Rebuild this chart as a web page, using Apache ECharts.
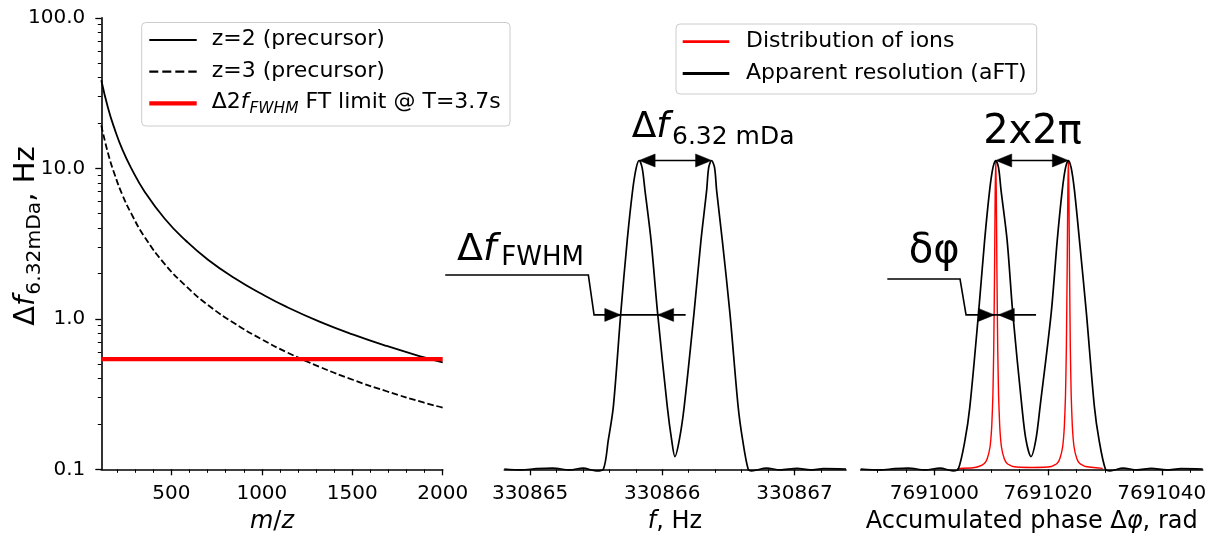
<!DOCTYPE html>
<html>
<head>
<meta charset="utf-8">
<script src="https://cdn.jsdelivr.net/npm/echarts@6/dist/echarts.min.js"></script>
<style>
  html, body { margin: 0; padding: 0; background: #fff; }
  #chart { width: 1214px; height: 536px; }
</style>
</head>
<body>
<div id="chart"></div>
<script>
// ---------- left panel: frequency gap of a 6.32 mDa doublet vs m/z ----------
const mzGrid = [112, 150, 186, 230, 278, 350, 463, 580, 702, 850, 1000, 1137, 1322, 1506, 1690, 1893, 2000];
const dfZ2 = [38.5, 25.0, 18.2, 13.2, 10.0, 7.05, 4.62, 3.3, 2.47, 1.86, 1.46, 1.2, 0.955, 0.785, 0.66, 0.556, 0.513];
const dfZ3 = [19.3, 12.5, 9.1, 6.6, 5.0, 3.52, 2.31, 1.65, 1.235, 0.93, 0.73, 0.6, 0.478, 0.392, 0.33, 0.278, 0.257];
const limitMz = [112, 2000];
const limitDf = [0.54, 0.54];
const mzTicks = [500, 1000, 1500, 2000];
const mzMinorTicks = [200, 300, 400, 600, 700, 800, 900, 1100, 1200, 1300, 1400, 1600, 1700, 1800, 1900];
const dfTicks = [0.1, 1, 10, 100];
const dfMinorTicks = [0.2, 0.3, 0.4, 0.5, 0.6, 0.7, 0.8, 0.9, 2, 3, 4, 5, 6, 7, 8, 9, 20, 30, 40, 50, 60, 70, 80, 90];

// ---------- middle panel: apparent spectrum vs frequency ----------
const freqHz = [330864.805, 330864.93, 330865.05, 330865.17, 330865.30, 330865.40, 330865.50, 330865.554,
  330865.592, 330865.630, 330865.686, 330865.735, 330865.776, 330865.803, 330865.825, 330865.848, 330865.869,
  330865.915, 330865.965, 330866.038, 330866.071, 330866.096, 330866.129, 330866.166, 330866.240, 330866.293,
  330866.336, 330866.351, 330866.373, 330866.396, 330866.411, 330866.454, 330866.512, 330866.574, 330866.608,
  330866.650, 330866.676, 330866.79, 330866.89, 330867.02, 330867.12, 330867.22, 330867.39];
const freqAmp = [0.001, -0.002, 0.002, 0.004, -0.002, 0.004, -0.005, 0.0,
  0.095, 0.203, 0.505, 0.742, 0.904, 0.976, 1.0, 0.976, 0.904,
  0.742, 0.505, 0.203, 0.095, 0.041, 0.095, 0.203, 0.505, 0.742,
  0.904, 0.976, 1.0, 0.976, 0.904, 0.742, 0.505, 0.203, 0.095,
  0.0, -0.005, 0.004, -0.002, 0.003, -0.002, 0.002, 0.001];
const freqTicks = [330865, 330866, 330867];
const freqMinorTicks = [330865.2, 330865.4, 330865.6, 330865.8, 330866.2, 330866.4, 330866.6, 330866.8, 330867.2];

// ---------- right panel: spectrum vs accumulated phase ----------
const phaseRad = [7690987.05, 7690990.5, 7690993, 7690995.4, 7690998.4, 7691001.0, 7691003.3, 7691004.2,
  7691005.4, 7691006.25, 7691007.77, 7691008.85, 7691009.73, 7691010.3, 7691010.8, 7691011.3, 7691011.73,
  7691012.8, 7691013.8, 7691015.4, 7691016.12, 7691017.0, 7691017.85, 7691018.6, 7691020.55, 7691021.62,
  7691022.5, 7691023.07, 7691023.57, 7691024.07, 7691024.64, 7691025.52, 7691026.75, 7691028.15, 7691028.97,
  7691030.1, 7691030.9, 7691033.2, 7691035.6, 7691038.2, 7691040.8, 7691043.4, 7691047.2];
const phaseAmp = [0.001, -0.002, 0.002, 0.004, -0.002, 0.004, -0.005, 0.0,
  0.095, 0.203, 0.505, 0.742, 0.904, 0.976, 1.0, 0.976, 0.904,
  0.742, 0.505, 0.203, 0.095, 0.041, 0.095, 0.203, 0.505, 0.742,
  0.904, 0.976, 1.0, 0.976, 0.904, 0.742, 0.505, 0.203, 0.095,
  0.0, -0.005, 0.004, -0.002, 0.003, -0.002, 0.002, 0.001];
const ionPhase = [7691004.0, 7691006.8, 7691007.8, 7691008.8, 7691009.3, 7691009.8, 7691010.1, 7691010.3,
  7691010.45, 7691010.6, 7691010.7, 7691010.8, 7691010.9, 7691011.0, 7691011.15, 7691011.3, 7691011.5,
  7691011.8, 7691012.3, 7691012.8, 7691013.8, 7691017.2, 7691020.57, 7691021.57, 7691022.07, 7691022.57,
  7691022.87, 7691023.07, 7691023.22, 7691023.37, 7691023.47, 7691023.57, 7691023.67, 7691023.77, 7691023.92,
  7691024.07, 7691024.27, 7691024.57, 7691025.07, 7691025.57, 7691026.57, 7691029.6];
const ionAmp = [0.002, 0.005, 0.009, 0.019, 0.034, 0.073, 0.14, 0.24,
  0.39, 0.66, 0.89, 1.0, 0.89, 0.66, 0.39, 0.24, 0.14,
  0.073, 0.034, 0.019, 0.009, 0.006, 0.009, 0.019, 0.034, 0.073,
  0.14, 0.24, 0.39, 0.66, 0.89, 1.0, 0.89, 0.66, 0.39,
  0.24, 0.14, 0.073, 0.034, 0.019, 0.009, 0.003];
const phaseTicks = [7691000, 7691020, 7691040];
const phaseMinorTicks = [7690990, 7690995, 7691005, 7691010, 7691015, 7691025, 7691030, 7691035, 7691045];

// annotation anchors, in data units of each panel
const fwhmLeaderHz = [330864.358, 330865.441, 330865.484, 330866.177];
const fwhmLeaderAmp = [0.629, 0.629, 0.5, 0.5];
const dphiLeaderRad = [7690991.73, 7691004.52, 7691005.58, 7691017.89];
const dphiLeaderAmp = [0.616, 0.616, 0.5, 0.5];
const dphiTipsRad = [7691010.55, 7691011.25];

const FONT = '"DejaVu Sans"';
const AMP_MAX = 1.462;
const zip = (xs, ys) => xs.map((x, i) => [x, ys[i]]);

const tickLabel = { fontFamily: FONT, fontSize: 20, color: '#000' };

function majorX(grid, min, max, ticks) {
  return {
    type: 'value', gridIndex: grid, position: 'bottom', min: min, max: max, z: 3,
    axisLine: { onZero: false, lineStyle: { color: '#000', width: 1.6 } },
    axisTick: { customValues: ticks, length: 6, lineStyle: { color: '#000', width: 1.3 } },
    axisLabel: Object.assign({ customValues: ticks, margin: 14, formatter: v => String(Math.round(v)) }, tickLabel),
    splitLine: { show: false }
  };
}
function minorX(grid, min, max, ticks) {
  return {
    type: 'value', gridIndex: grid, position: 'bottom', min: min, max: max, z: 3,
    axisLine: { show: false, onZero: false },
    axisTick: { customValues: ticks, length: 3.5, lineStyle: { color: '#000', width: 1 } },
    axisLabel: { show: false },
    splitLine: { show: false }
  };
}

const option = {
  animation: false,
  backgroundColor: '#fff',
  grid: [
    { left: 101.3, top: 17.8, width: 341.4, height: 451.5 },
    { left: 504.3, top: 17.8, width: 341.7, height: 451.5 },
    { left: 860.7, top: 17.8, width: 342.0, height: 451.5 }
  ],
  xAxis: [
    majorX(0, 112, 2000, mzTicks),
    minorX(0, 112, 2000, mzMinorTicks),
    majorX(1, 330864.805, 330867.39, freqTicks),
    minorX(1, 330864.805, 330867.39, freqMinorTicks),
    majorX(2, 7690987.05, 7691047.2, phaseTicks),
    minorX(2, 7690987.05, 7691047.2, phaseMinorTicks)
  ],
  yAxis: [
    {
      type: 'log', logBase: 10, gridIndex: 0, position: 'left', min: 0.1, max: 100,
      axisLine: { show: true, lineStyle: { color: '#000', width: 1.6 } },
      axisTick: { show: true, customValues: dfTicks, length: 6, lineStyle: { color: '#000', width: 1.3 } },
      axisLabel: Object.assign({ customValues: dfTicks, margin: 16, formatter: v => Number(v).toFixed(1) }, tickLabel),
      splitLine: { show: false }
    },
    {
      type: 'log', logBase: 10, gridIndex: 0, position: 'left', min: 0.1, max: 100,
      axisLine: { show: false },
      axisTick: { show: true, customValues: dfMinorTicks, length: 3.5, lineStyle: { color: '#000', width: 1 } },
      axisLabel: { show: false },
      splitLine: { show: false }
    },
    { type: 'value', gridIndex: 1, min: 0, max: AMP_MAX, show: false },
    { type: 'value', gridIndex: 2, min: 0, max: AMP_MAX, show: false }
  ],
  series: [
    { name: 'z=2 (precursor)', type: 'line', xAxisIndex: 0, yAxisIndex: 0, data: zip(mzGrid, dfZ2),
      showSymbol: false, smooth: 0.5, lineStyle: { color: '#000', width: 1.8 } },
    { name: 'z=3 (precursor)', type: 'line', xAxisIndex: 0, yAxisIndex: 0, data: zip(mzGrid, dfZ3),
      showSymbol: false, smooth: 0.5, lineStyle: { color: '#000', width: 1.8, type: [6.5, 2.8] } },
    { name: 'FT limit', type: 'line', xAxisIndex: 0, yAxisIndex: 0, data: zip(limitMz, limitDf),
      showSymbol: false, lineStyle: { color: '#ff0000', width: 4.3 } },
    { name: 'Apparent resolution (aFT) f', type: 'line', xAxisIndex: 2, yAxisIndex: 2, data: zip(freqHz, freqAmp),
      showSymbol: false, smooth: 0.3, clip: false, lineStyle: { color: '#000', width: 1.7 } },
    { name: 'Distribution of ions', type: 'line', xAxisIndex: 4, yAxisIndex: 3, data: zip(ionPhase, ionAmp),
      showSymbol: false, smooth: 0.15, clip: false, lineStyle: { color: '#ff0000', width: 1.4 } },
    { name: 'Apparent resolution (aFT)', type: 'line', xAxisIndex: 4, yAxisIndex: 3, data: zip(phaseRad, phaseAmp),
      showSymbol: false, smooth: 0.3, clip: false, lineStyle: { color: '#000', width: 1.7 } }
  ]
};

const chart = echarts.init(document.getElementById('chart'), null, { renderer: 'canvas' });
chart.setOption(option);

// ---------- text helpers: runs of upright / italic / subscript pieces ----------
const measureCtx = document.createElement('canvas').getContext('2d');
function fontStr(size, italic) { return (italic ? 'italic ' : '') + size + 'px ' + FONT; }
function textWidth(t, size, italic) { measureCtx.font = fontStr(size, italic); return measureCtx.measureText(t).width; }
function runWidth(segs) {
  return segs.reduce((w, s) => w + (s.dx || 0) + textWidth(s.t, s.size, s.it), 0);
}
// x0 = start of run, base = alphabetic baseline (canvas "middle" sits ~0.346em above it for DejaVu)
function runEls(x0, base, segs, color) {
  let cx = x0;
  const els = [];
  segs.forEach(s => {
    cx += (s.dx || 0);
    els.push({
      type: 'text', x: cx, y: base + (s.dy || 0) - 0.346 * s.size, z: 100,
      style: { text: s.t, font: fontStr(s.size, s.it), fill: color || '#000',
               align: 'left', verticalAlign: 'middle', textAlign: 'left', textVerticalAlign: 'middle' }
    });
    cx += textWidth(s.t, s.size, s.it);
  });
  return els;
}
function centeredRun(cx, base, segs) {
  return runEls(cx - runWidth(segs) / 2, base, segs);
}

const els = [];
const px = (si, x, y) => chart.convertToPixel({ seriesIndex: si }, [x, y]);

// arrowhead: filled triangle with its tip at (tx, ty), pointing right (dir=1) or left (dir=-1)
function arrowHead(tx, ty, dir) {
  const L = 16, W = 6.5;
  return { type: 'polygon', z: 101, shape: { points: [[tx, ty], [tx - dir * L, ty - W], [tx - dir * L, ty + W]] },
           style: { fill: '#000', stroke: '#000', lineWidth: 0.5 } };
}
function segLine(a, b, w) {
  return { type: 'line', z: 101, shape: { x1: a[0], y1: a[1], x2: b[0], y2: b[1] }, style: { stroke: '#000', lineWidth: w || 1.6 } };
}
function polyLine(pts) {
  return { type: 'polyline', z: 101, shape: { points: pts }, style: { stroke: '#000', lineWidth: 1.6, fill: null } };
}

// double arrow between the two peak tops of a panel
function peakArrow(si, xs, ys) {
  const idx = ys.map((v, i) => (v === 1.0 ? i : -1)).filter(i => i >= 0);
  const a = px(si, xs[idx[0]], ys[idx[0]]);
  const b = px(si, xs[idx[1]], ys[idx[1]]);
  els.push(segLine([a[0] + 8, a[1]], [b[0] - 8, b[1]]));
  els.push(arrowHead(a[0], a[1], -1));
  els.push(arrowHead(b[0], b[1], 1));
}
peakArrow(3, freqHz, freqAmp);
peakArrow(5, phaseRad, phaseAmp);

// FWHM leader with inward arrows (middle)
{
  const pts = fwhmLeaderHz.map((x, i) => px(3, x, fwhmLeaderAmp[i]));
  els.push(polyLine(pts));
  const l = px(3, freqHz[10], 0.5), r = px(3, freqHz[18], 0.5);
  els.push(arrowHead(l[0], pts[3][1], 1));
  els.push(arrowHead(r[0], pts[3][1], -1));
}
// phase-spread leader with inward arrows (right)
{
  const pts = dphiLeaderRad.map((x, i) => px(5, x, dphiLeaderAmp[i]));
  els.push(polyLine(pts));
  const l = px(5, dphiTipsRad[0], 0.5), r = px(5, dphiTipsRad[1], 0.5);
  els.push(arrowHead(l[0], pts[3][1], 1));
  els.push(arrowHead(r[0], pts[3][1], -1));
}

// annotation labels
els.push(...runEls(631.7, 140, [
  { t: 'Δ', size: 36 }, { t: 'f', size: 36, it: true }, { t: '6.32 mDa', size: 25, dy: 6.5, dx: 3 }]));
els.push(...runEls(457, 263, [
  { t: 'Δ', size: 38 }, { t: 'f', size: 38, it: true }, { t: 'FWHM', size: 26, dy: 4.7, dx: 5 }]));
els.push(...centeredRun(1032.5, 146.7, [{ t: '2x2π', size: 40 }]));
els.push(...centeredRun(934.2, 265, [{ t: 'δφ', size: 40 }]));

// axis titles
els.push(...centeredRun(272, 530, [
  { t: 'm', size: 24, it: true }, { t: '/', size: 24 }, { t: 'z', size: 24, it: true }]));
els.push(...centeredRun(675, 530, [{ t: 'f', size: 24, it: true }, { t: ', Hz', size: 24 }]));
els.push(...centeredRun(1031.7, 530, [
  { t: 'Accumulated phase Δ', size: 24 }, { t: 'φ', size: 24, it: true }, { t: ', rad', size: 24 }]));

// rotated y title of the left panel
{
  const segs = [{ t: 'Δ', size: 29 }, { t: 'f', size: 29, it: true }, { t: '6.32mDa', size: 20.3, dy: 5.2, dx: 1 },
                { t: ', Hz', size: 29 }];
  const w = runWidth(segs);
  els.push({ type: 'group', x: 37, y: 236 + w / 2, rotation: Math.PI / 2, z: 100, children: runEls(0, 0, segs) });
}

// legend of the left panel
els.push({ type: 'rect', z: 99, shape: { x: 141.7, y: 22.5, width: 368.3, height: 103.5, r: 4 },
           style: { fill: 'rgba(255,255,255,0.85)', stroke: '#cccccc', lineWidth: 1 } });
const legL = [40, 71.7, 103.3];
els.push({ type: 'line', z: 100, shape: { x1: 149.3, y1: legL[0], x2: 196.7, y2: legL[0] }, style: { stroke: '#000', lineWidth: 2.2 } });
els.push({ type: 'line', z: 100, shape: { x1: 149.3, y1: legL[1], x2: 196.7, y2: legL[1] }, style: { stroke: '#000', lineWidth: 2.2, lineDash: [9, 4] } });
els.push({ type: 'line', z: 100, shape: { x1: 149.3, y1: legL[2], x2: 196.7, y2: legL[2] }, style: { stroke: '#ff0000', lineWidth: 4.3 } });
els.push(...runEls(211.7, legL[0] + 7, [{ t: 'z=2 (precursor)', size: 22 }]));
els.push(...runEls(211.7, legL[1] + 7, [{ t: 'z=3 (precursor)', size: 22 }]));
els.push(...runEls(211.7, legL[2] + 7, [
  { t: 'Δ2', size: 22 }, { t: 'f', size: 22, it: true }, { t: 'FWHM', size: 15.4, it: true, dy: 4, dx: 1 },
  { t: ' FT limit @ T=3.7s', size: 22 }]));

// legend of the right-hand panels
els.push({ type: 'rect', z: 99, shape: { x: 676, y: 24, width: 360.7, height: 70, r: 4 },
           style: { fill: 'rgba(255,255,255,0.85)', stroke: '#cccccc', lineWidth: 1 } });
const legR = [41.7, 73.5];
els.push({ type: 'line', z: 100, shape: { x1: 682.7, y1: legR[0], x2: 729.3, y2: legR[0] }, style: { stroke: '#ff0000', lineWidth: 2.8 } });
els.push({ type: 'line', z: 100, shape: { x1: 682.7, y1: legR[1], x2: 729.3, y2: legR[1] }, style: { stroke: '#000', lineWidth: 2.8 } });
els.push(...runEls(746, legR[0] + 7, [{ t: 'Distribution of ions', size: 22 }]));
els.push(...runEls(746, legR[1] + 7, [{ t: 'Apparent resolution (aFT)', size: 22 }]));

chart.setOption({ graphic: { elements: els } });
</script>
</body>
</html>
